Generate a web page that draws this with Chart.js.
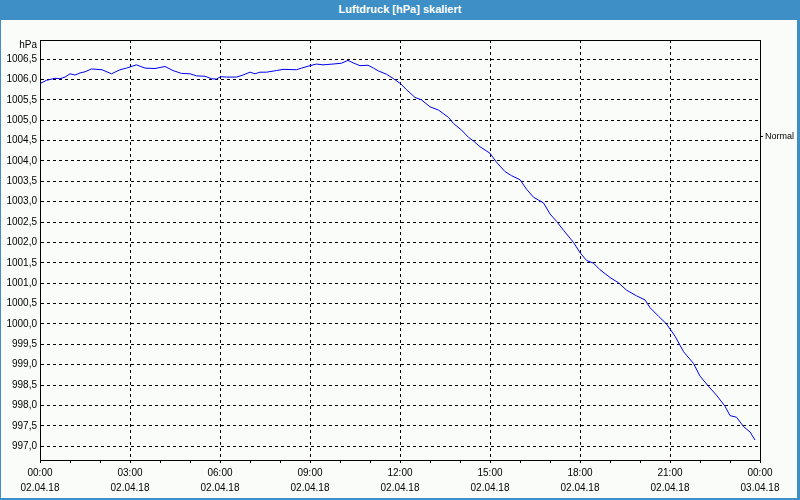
<!DOCTYPE html>
<html>
<head>
<meta charset="utf-8">
<title>Luftdruck [hPa] skaliert</title>
<script src="https://cdn.jsdelivr.net/npm/chart.js@4"></script>
<style>
  html, body { margin: 0; padding: 0; }
  body {
    width: 800px; height: 500px; position: relative; overflow: hidden;
    background: #fafcfa;
    font-family: "Liberation Sans", Arial, sans-serif;
  }
  #titel {
    position: absolute; left: 0; top: 0; width: 800px; height: 20px;
    background: #3d8fc6; color: #fff; font-weight: bold; font-size: 11px;
    line-height: 19px; text-align: center; z-index: 2;
  }
  #rahmen {
    position: absolute; left: 0; top: 0; width: 800px; height: 500px;
    box-sizing: border-box; pointer-events: none; z-index: 2;
    border-left: 1px solid #3d8fc6; border-right: 3px solid #3d8fc6; border-bottom: 2px solid #3d8fc6;
  }
  #chart { position: absolute; left: 0; top: 0; }
</style>
</head>
<body>
<div id="titel">Luftdruck [hPa] skaliert</div>
<div id="rahmen"></div>
<canvas id="chart" width="800" height="500"></canvas>

<script>
// Minuten seit 02.04.18 00:00
const zeitMin = [
  0, 13, 30, 40, 50, 60, 70, 80, 90, 103, 124, 143, 160, 173, 193, 210, 230, 250, 266, 283,
  300, 313, 330, 343, 353, 361, 373, 393, 406, 420, 430, 440, 453, 473, 486, 513, 523, 540,
  553, 566, 586, 603, 616, 626, 640, 656, 667, 677, 693, 707, 721, 733, 750, 763, 780, 797,
  817, 827, 843, 857, 867, 880, 900, 913, 930, 943, 960, 973, 987, 1007, 1020, 1033, 1047,
  1067, 1080, 1093, 1107, 1120, 1140, 1157, 1173, 1193, 1210, 1220, 1237, 1253, 1270, 1287,
  1307, 1320, 1337, 1353, 1370, 1380, 1393, 1407, 1420, 1430
];

const druck = [
  1005.90, 1005.98, 1006.03, 1006.02, 1006.06, 1006.14, 1006.11, 1006.16, 1006.19, 1006.26,
  1006.24, 1006.14, 1006.24, 1006.28, 1006.36, 1006.28, 1006.27, 1006.32, 1006.22, 1006.15,
  1006.14, 1006.09, 1006.08, 1006.02, 1006.01, 1006.07, 1006.06, 1006.06, 1006.11, 1006.18,
  1006.14, 1006.18, 1006.18, 1006.22, 1006.25, 1006.24, 1006.28, 1006.34, 1006.38, 1006.36,
  1006.38, 1006.40, 1006.47, 1006.41, 1006.34, 1006.35, 1006.28, 1006.21, 1006.13, 1006.02,
  1005.90, 1005.75, 1005.56, 1005.50, 1005.33, 1005.25, 1005.07, 1004.92, 1004.76, 1004.58,
  1004.49, 1004.35, 1004.19, 1003.97, 1003.74, 1003.64, 1003.54, 1003.31, 1003.11, 1002.97,
  1002.70, 1002.52, 1002.30, 1002.00, 1001.75, 1001.56, 1001.49, 1001.33, 1001.14, 1001.01,
  1000.83, 1000.69, 1000.59, 1000.40, 1000.19, 1000.00, 999.70, 999.32, 999.03, 998.72,
  998.47, 998.25, 997.98, 997.75, 997.71, 997.48, 997.35, 997.15
];

const yTicks = [
  997.0, 997.5, 998.0, 998.5, 999.0, 999.5, 1000.0, 1000.5, 1001.0, 1001.5,
  1002.0, 1002.5, 1003.0, 1003.5, 1004.0, 1004.5, 1005.0, 1005.5, 1006.0, 1006.5
];
const yMin = 996.66;
const yMax = 1006.97;

const zeitLabels = ['00:00', '03:00', '06:00', '09:00', '12:00', '15:00', '18:00', '21:00', '00:00'];
const datumLabels = ['02.04.18', '02.04.18', '02.04.18', '02.04.18', '02.04.18', '02.04.18', '02.04.18', '02.04.18', '03.04.18'];

const normalWert = 1004.60;
const normalLabel = 'Normal';
const einheit = 'hPa';

Chart.defaults.font.family = '"Liberation Sans", Arial, sans-serif';
Chart.defaults.font.size = 10;
Chart.defaults.color = '#000';

// Rahmen um die Zeichenfläche und Einheit oben links
const plotRahmen = {
  id: 'plotRahmen',
  afterDraw(chart) {
    const { ctx, chartArea: a } = chart;
    ctx.save();
    ctx.strokeStyle = '#000';
    ctx.lineWidth = 1;
    ctx.strokeRect(a.left + 0.5, a.top + 0.5, a.right - a.left, a.bottom - a.top);
    ctx.fillStyle = '#000';
    ctx.font = '10px "Liberation Sans", Arial, sans-serif';
    ctx.textAlign = 'right';
    ctx.textBaseline = 'middle';
    ctx.fillText(einheit, a.left - 3, a.top + 5);
    ctx.restore();
  }
};

const ctx = document.getElementById('chart').getContext('2d');

new Chart(ctx, {
  type: 'line',
  data: {
    datasets: [{
      label: 'Luftdruck',
      data: zeitMin.map((t, i) => ({ x: t, y: druck[i] })),
      borderColor: '#0000f0',
      borderWidth: 1,
      pointRadius: 0,
      tension: 0,
      fill: false
    }]
  },
  options: {
    responsive: false,
    animation: false,
    layout: { padding: { top: 40, left: 0, right: 0, bottom: 0 } },
    plugins: {
      legend: { display: false },
      tooltip: { enabled: false }
    },
    scales: {
      x: {
        type: 'linear',
        min: 0,
        max: 1440,
        afterFit: s => { s.height = 40; },
        ticks: {
          stepSize: 60,
          autoSkip: false,
          maxRotation: 0,
          padding: 3,
          font: { size: 10, lineHeight: 1.5 },
          callback: v => v % 180 === 0 ? [zeitLabels[v / 180], datumLabels[v / 180]] : ''
        },
        grid: {
          color: c => (c.tick && c.tick.value % 180 === 0) ? '#000' : 'rgba(0,0,0,0)',
          tickColor: '#000',
          tickLength: 3,
          lineWidth: 1
        },
        border: { display: true, color: '#000', width: 1, dash: [3, 3] }
      },
      y: {
        min: yMin,
        max: yMax,
        afterFit: s => { s.width = 40; },
        afterBuildTicks: s => { s.ticks = yTicks.map(v => ({ value: v })); },
        ticks: {
          padding: 3,
          callback: v => v.toFixed(1).replace('.', ',')
        },
        grid: { color: '#000', lineWidth: 1, drawTicks: false },
        border: { display: true, color: '#000', width: 1, dash: [3, 3] }
      },
      y2: {
        position: 'right',
        min: yMin,
        max: yMax,
        afterFit: s => { s.width = 40; },
        afterBuildTicks: s => { s.ticks = [{ value: normalWert }]; },
        ticks: {
          padding: 2,
          font: { size: 9 },
          callback: () => normalLabel
        },
        grid: { drawOnChartArea: false, color: '#000', tickLength: 3 },
        border: { display: true, color: '#000', width: 1 }
      }
    }
  },
  plugins: [plotRahmen]
});
</script>
</body>
</html>
